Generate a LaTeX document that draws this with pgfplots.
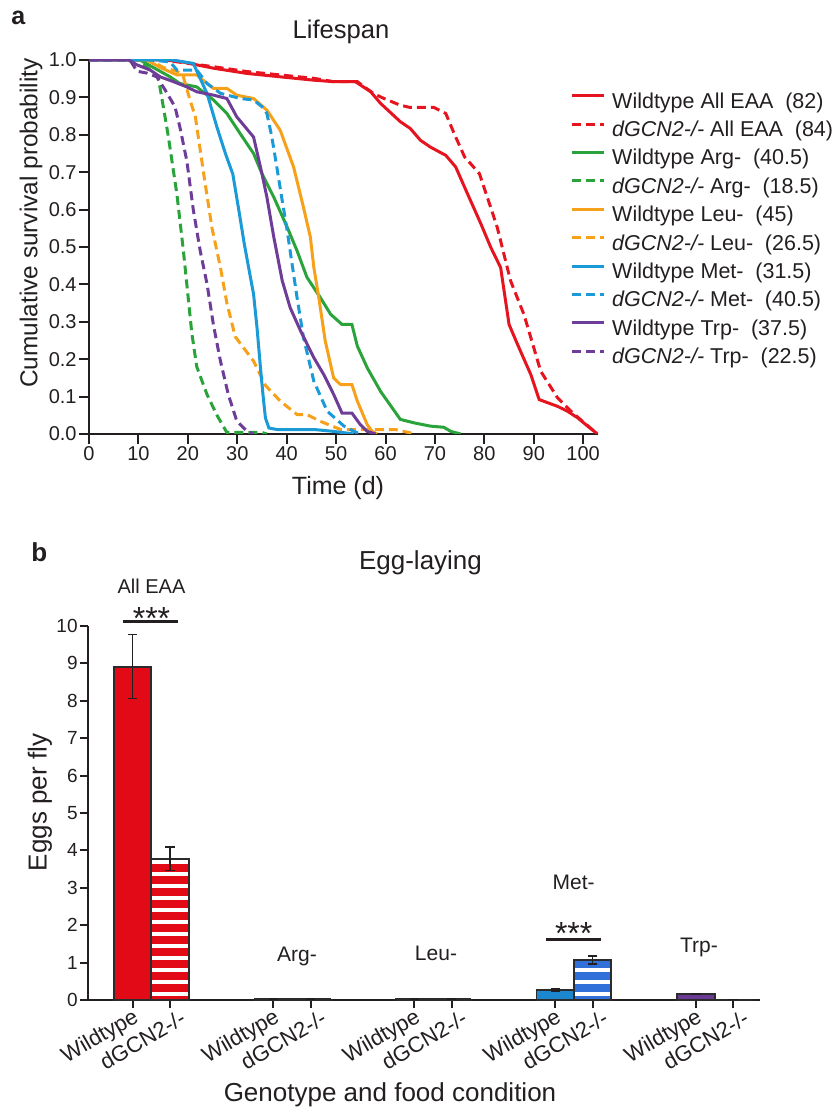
\documentclass[border=0pt]{standalone}
\usepackage{fontspec}
\setmainfont{Liberation Sans}
\usepackage{pgfplots}
\pgfplotsset{compat=1.18}
\usetikzlibrary{patterns.meta}
\definecolor{txt}{HTML}{231F20}
\definecolor{outl}{HTML}{2B2B2B}
\definecolor{cred}{HTML}{E5141E}
\definecolor{cgreen}{HTML}{2BA33B}
\definecolor{corange}{HTML}{F7A11A}
\definecolor{cblue}{HTML}{1B9AD8}
\definecolor{cpurple}{HTML}{6E3D98}
\definecolor{bred}{HTML}{E20A17}
\definecolor{bblue}{HTML}{1C87CF}
\definecolor{bblue2}{HTML}{3070D8}
\definecolor{bpurple}{HTML}{6A3A95}
\tikzset{
  sol/.style={line width=1.5pt},
  das/.style={line width=1.5pt, dash pattern=on 4.5pt off 2.5pt},
}
\begin{document}
\begin{tikzpicture}
\useasboundingbox (0,0) rectangle (416.5pt,554pt);
% ---------------- panel a ----------------
\begin{axis}[
  at={(44.5pt,337pt)}, anchor=south west,
  scale only axis, width=254.5pt, height=187pt,
  xmin=0, xmax=103, ymin=0, ymax=1,
  axis lines*=left,
  axis line style={-, line width=1pt, color=txt},
  xtick={0,10,20,30,40,50,60,70,80,90,100},
  ytick={0,0.1,0.2,0.3,0.4,0.5,0.6,0.7,0.8,0.9,1.0},
  tick align=outside, major tick length=5pt,
  tick style={line width=1pt, color=txt},
  /pgf/number format/assume math mode=true,
  yticklabel style={/pgf/number format/.cd, fixed, fixed zerofill, precision=1},
  tick label style={font=\fontsize{10}{12}\selectfont, text=txt, inner sep=1pt},
  legend style={at={(0.9454,0.912)}, anchor=north west, draw=none, fill=none,
    inner sep=0pt, outer sep=0pt, font=\fontsize{10.75}{12}\selectfont, text=txt,
    row sep=4.2pt, column sep=3.3pt,
    nodes={inner sep=0pt, text height=7.6pt, text depth=2.4pt}},
  legend cell align=left,
  legend image code/.code={\draw[#1] (0pt,3.6pt) -- (16.2pt,3.6pt);},
]
\addplot[cred, sol] coordinates {(0,1) (15.1,1.0) (18.4,0.996) (25.2,0.978) (32,0.964) (38.7,0.955) (45.5,0.946) (49.5,0.942) (53.9,0.942) (57,0.915) (59,0.884) (63,0.835) (65,0.817) (67.1,0.785) (69.1,0.767) (72.2,0.745) (74.2,0.714) (76.6,0.642) (79.3,0.562) (81.3,0.499) (83.3,0.445) (85,0.293) (86.7,0.24) (89.4,0.159) (91.1,0.092) (94.8,0.074) (96.8,0.061) (98.9,0.043) (100.9,0.021) (102.9,0)};
\addlegendentry{Wildtype All EAA\hspace{0.55em}(82)}
\addplot[cred, das] coordinates {(0,1) (15,1.0) (25.2,0.982) (32,0.969) (38.7,0.96) (45.5,0.951) (49.5,0.942) (54.3,0.942) (57.6,0.91) (59.7,0.897) (63,0.879) (65,0.873) (69.8,0.873) (72.2,0.857) (73.9,0.803) (76,0.741) (79,0.696) (80.6,0.633) (82.6,0.553) (85.3,0.41) (88,0.32) (89.4,0.258) (91.4,0.168) (94.8,0.097) (97.5,0.061) (100.2,0.03) (102.9,0)};
\addlegendentry{\textit{dGCN2-/-} All EAA\hspace{0.55em}(84)}
\addplot[cgreen, sol] coordinates {(0,1) (10.3,1.0) (13,0.98) (16.4,0.955) (18.4,0.937) (21.8,0.928) (25.2,0.893) (27.9,0.857) (30.6,0.803) (33.3,0.75) (35,0.696) (37.4,0.633) (40.1,0.553) (42.1,0.49) (44.1,0.419) (46.8,0.365) (48.9,0.32) (51.2,0.293) (53.2,0.293) (54.3,0.235) (56.3,0.177) (59,0.114) (63,0.039) (65.7,0.03) (69.1,0.021) (71.8,0.018) (73.2,0.007) (75.2,0)};
\addlegendentry{Wildtype Arg-\hspace{0.55em}(40.5)}
\addplot[cgreen, das] coordinates {(0,1) (10,1.0) (14,0.955) (16,0.80) (17.8,0.64) (19.1,0.49) (19.8,0.40) (20.8,0.27) (21.8,0.18) (23.9,0.105) (25.9,0.05) (27.9,0.004) (35,0.004) (36,0)};
\addlegendentry{\textit{dGCN2-/-} Arg-\hspace{0.55em}(18.5)}
\addplot[corange, sol] coordinates {(0,1) (11.7,1.0) (14.4,0.98) (17.8,0.96) (21.8,0.96) (23.9,0.937) (25.2,0.924) (27.9,0.924) (29.9,0.906) (33.3,0.897) (36,0.866) (38.7,0.812) (41.4,0.714) (43.4,0.606) (44.8,0.526) (45.5,0.445) (46.5,0.365) (47.8,0.249) (49.5,0.15) (50.9,0.132) (53.2,0.132) (54.3,0.088) (56.3,0.025) (57.3,0.007) (58.3,0)};
\addlegendentry{Wildtype Leu-\hspace{0.55em}(45)}
\addplot[corange, das] coordinates {(0,1) (12.4,1.0) (15,0.98) (17.8,0.97) (19.1,0.955) (20.5,0.89) (21.5,0.85) (22.5,0.76) (23.5,0.67) (24.9,0.55) (26.6,0.445) (27.9,0.35) (29.6,0.26) (31.3,0.23) (33.3,0.195) (35.7,0.13) (38.7,0.088) (42.1,0.052) (44.1,0.052) (46.8,0.034) (50.9,0.012) (62,0.012) (66,0)};
\addlegendentry{\textit{dGCN2-/-} Leu-\hspace{0.55em}(26.5)}
\addplot[cblue, sol] coordinates {(0,1) (16.8,1.0) (21.1,0.991) (23.9,0.91) (25.9,0.82) (27.6,0.75) (29.1,0.695) (30.3,0.60) (31.4,0.51) (32.3,0.445) (33.3,0.374) (34,0.284) (34.7,0.177) (35.2,0.106) (35.7,0.043) (36.4,0.016) (38,0.012) (45.5,0.012) (49.5,0.007) (53.6,0)};
\addlegendentry{Wildtype Met-\hspace{0.55em}(31.5)}
\addplot[cblue, das] coordinates {(0,1) (12.4,1.0) (16.4,0.995) (17.8,0.973) (21.8,0.973) (23.9,0.937) (26.6,0.911) (30.6,0.897) (33.3,0.893) (35,0.875) (36,0.857) (37,0.794) (38,0.714) (39.1,0.624) (40.1,0.544) (41.1,0.454) (42.1,0.365) (43.4,0.258) (45.5,0.141) (48.2,0.061) (51.6,0.021) (53.6,0.007) (54.9,0)};
\addlegendentry{\textit{dGCN2-/-} Met-\hspace{0.55em}(40.5)}
\addplot[cpurple, sol] coordinates {(0,1) (8,1.0) (9.7,0.987) (12.4,0.973) (14.4,0.955) (17.1,0.942) (19.8,0.928) (21.8,0.915) (25.2,0.906) (27.9,0.897) (29.9,0.848) (33.3,0.794) (35,0.696) (36,0.633) (37.4,0.526) (39.1,0.41) (40.7,0.338) (42.8,0.276) (45.5,0.204) (47.5,0.159) (49.5,0.106) (51.2,0.056) (53.2,0.056) (54.9,0.025) (56.3,0.007) (58,0)};
\addlegendentry{Wildtype Trp-\hspace{0.55em}(37.5)}
\addplot[cpurple, das] coordinates {(0,1) (8.3,1.0) (9.7,0.97) (11.7,0.965) (13.7,0.955) (15.4,0.92) (17.4,0.875) (18.4,0.82) (19.8,0.73) (21.1,0.6) (22.5,0.49) (23.9,0.40) (25.2,0.29) (26.6,0.195) (28.2,0.105) (29.9,0.035) (32,0.007) (33.3,0)};
\addlegendentry{\textit{dGCN2-/-} Trp-\hspace{0.55em}(22.5)}
\end{axis}
% ---------------- panel b ----------------
\begin{axis}[
  at={(44pt,54pt)}, anchor=south west,
  scale only axis, width=336pt, height=187pt,
  xmin=-0.45, xmax=4.322, ymin=0, ymax=10,
  axis lines*=left,
  axis line style={-, line width=1pt, color=txt},
  ytick={0,1,2,3,4,5,6,7,8,9,10},
  xtick={-0.1328,0.8672,1.8672,2.8672,3.8672},
  xticklabels={Wildtype,Wildtype,Wildtype,Wildtype,Wildtype},
  extra x ticks={0.1328,1.1328,2.1328,3.1328,4.1328},
  extra x tick labels={dGCN2-/-,dGCN2-/-,dGCN2-/-,dGCN2-/-,dGCN2-/-},
  extra x tick style={xticklabel style={xshift=3.8pt, yshift=-3.4pt}},
  tick align=outside, major tick length=4pt,
  tick style={line width=1pt, color=txt},
  /pgf/number format/assume math mode=true,
  yticklabel style={font=\fontsize{9.5}{11}\selectfont, text=txt, inner sep=1pt},
  xticklabel shift=-2pt,
  xticklabel style={font=\fontsize{11}{12}\selectfont, text=txt, rotate=30, anchor=north east, inner sep=1pt},
  mybar/.style={ybar, bar width=0.266, bar shift=0pt, draw=outl, line width=0.9pt,
    /pgfplots/error bars/y dir=both, /pgfplots/error bars/y explicit,
    /pgfplots/error bars/error bar style={line width=0.7pt, color=txt},
    /pgfplots/error bars/error mark options={rotate=90, mark size=2.3pt, line width=0.7pt, color=txt}},
  stripes/.style={pattern={Lines[angle=0,distance=6pt,line width=3.6pt]}, pattern color=#1},
]
\addplot[mybar, fill=bred] coordinates {(-0.1328,8.91) +- (0,0.855)};
\addplot[mybar, stripes=bred] coordinates {(0.1328,3.78) +- (0,0.31)};
\addplot[mybar, fill=cgreen] coordinates {(0.8672,0.03) +- (0,0.005)};
\addplot[mybar, stripes=cgreen] coordinates {(1.1328,0.02) +- (0,0.005)};
\addplot[mybar, fill=corange] coordinates {(1.8672,0.02) +- (0,0.005)};
\addplot[mybar, stripes=corange] coordinates {(2.1328,0.02) +- (0,0.005)};
\addplot[mybar, fill=bblue] coordinates {(2.8672,0.27) +- (0,0.025)};
\addplot[mybar, stripes=bblue2] coordinates {(3.1328,1.07) +- (0,0.11)};
\addplot[mybar, fill=bpurple] coordinates {(3.8672,0.16) +- (0,0.01)};
\addplot[mybar, stripes=bpurple] coordinates {(4.1328,0.01) +- (0,0.003)};
\end{axis}
% ---------------- annotations ----------------
\node[anchor=base west, font=\fontsize{12.5}{14}\selectfont\bfseries, text=txt, inner sep=0pt] at (5.5pt,541.5pt) {a};
\node[anchor=base west, font=\fontsize{13}{14}\selectfont\bfseries, text=txt, inner sep=0pt] at (15.5pt,273.15pt) {b};
\node[anchor=base, font=\fontsize{12.8}{14}\selectfont, text=txt, inner sep=0pt] at (170.5pt,534.85pt) {Lifespan};
\node[anchor=base, font=\fontsize{13}{14}\selectfont, text=txt, inner sep=0pt] at (210.25pt,269.25pt) {Egg-laying};
\node[anchor=base, font=\fontsize{12.5}{14}\selectfont, text=txt, inner sep=0pt] at (169pt,306.5pt) {Time (d)};
\node[rotate=90, font=\fontsize{12.2}{14}\selectfont, text=txt, inner sep=0pt] at (15.5pt,442.5pt) {Cumulative survival probability};
\node[rotate=90, font=\fontsize{13}{14}\selectfont, text=txt, inner sep=0pt] at (20pt,152.75pt) {Eggs per fly};
\node[anchor=base, font=\fontsize{13}{14}\selectfont, text=txt, inner sep=0pt] at (195pt,3.15pt) {Genotype and food condition};
% group labels
\node[anchor=base, font=\fontsize{10}{12}\selectfont, text=txt, inner sep=0pt] at (75.75pt,257.35pt) {All EAA};
\node[anchor=base, font=\fontsize{16}{16}\selectfont, text=txt, inner sep=0pt] at (75.75pt,239pt) {***};
\draw[line width=1.5pt, color=txt] (61.5pt,243.15pt) -- (89pt,243.15pt);
\node[anchor=base, font=\fontsize{10.5}{12}\selectfont, text=txt, inner sep=0pt] at (148.5pt,73.25pt) {Arg-};
\node[anchor=base, font=\fontsize{10.5}{12}\selectfont, text=txt, inner sep=0pt] at (218pt,73.5pt) {Leu-};
\node[anchor=base, font=\fontsize{10.5}{12}\selectfont, text=txt, inner sep=0pt] at (286.85pt,109.35pt) {Met-};
\node[anchor=base, font=\fontsize{16}{16}\selectfont, text=txt, inner sep=0pt] at (286.85pt,81.7pt) {***};
\draw[line width=1.5pt, color=txt] (272.85pt,84.35pt) -- (300.35pt,84.35pt);
\node[anchor=base, font=\fontsize{10.5}{12}\selectfont, text=txt, inner sep=0pt] at (349.5pt,77.5pt) {Trp-};
\end{tikzpicture}
\end{document}
